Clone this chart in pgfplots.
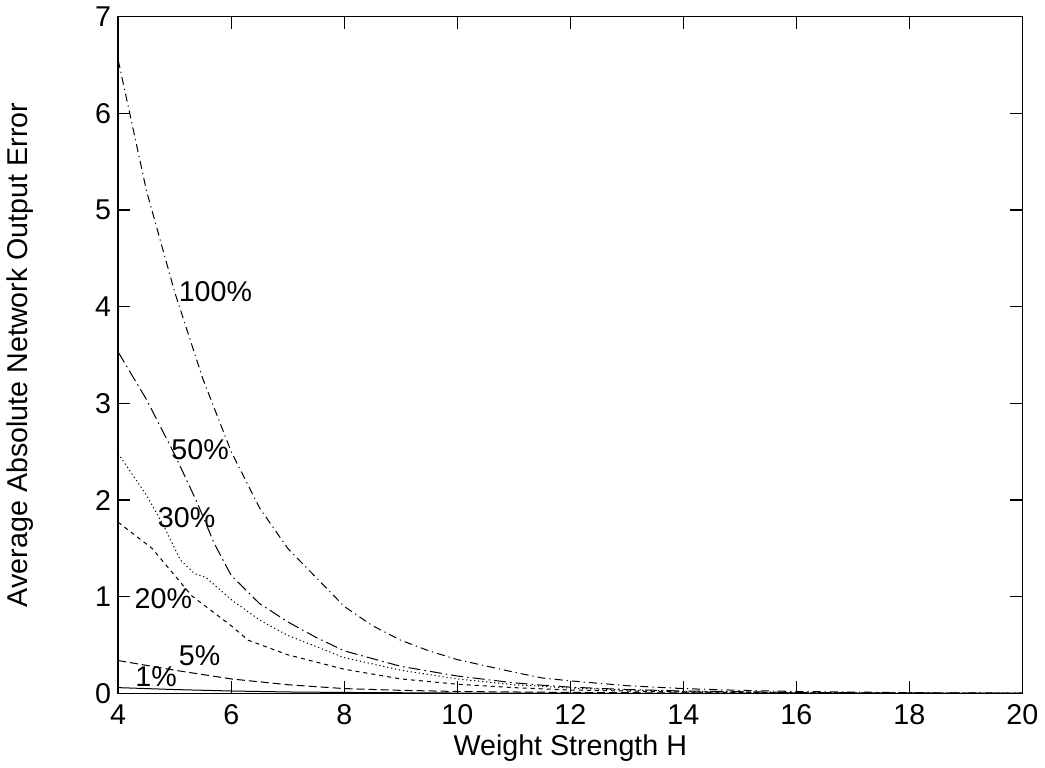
\documentclass[border=0pt]{standalone}
\usepackage{fontspec}
\setmainfont{Liberation Sans}
\usepackage{pgfplots}
\pgfplotsset{compat=1.18}

\begin{document}
\begin{tikzpicture}
\begin{axis}[
    scale only axis,
    width=451.5pt, height=338pt,
    xmin=4, xmax=20, ymin=0, ymax=7,
    xtick={4,6,...,20}, ytick={0,1,...,7},
    tick align=inside,
    major tick length=6pt,
    axis line style={line width=0.9pt},
    every tick/.style={black, line width=0.6pt},
    tick label style={font=\fontsize{14.3}{16}\selectfont},
    label style={font=\fontsize{14.3}{16}\selectfont},
    /pgf/number format/assume math mode=true,
    xticklabel style={yshift=-2pt},
    xlabel={Weight Strength H},
    ylabel={Average Absolute Network Output Error},
    xlabel style={yshift=2pt},
    ylabel style={yshift=24pt},
    every axis plot/.style={black, line width=0.5pt},
]
% 100%
\addplot[dash pattern=on 4pt off 2pt on 0.6pt off 2pt] coordinates {
 (4,6.55) (4.5,5.2) (5,4.15) (5.5,3.25) (6,2.5) (6.5,1.92) (7,1.5) (7.5,1.2)
 (8,0.9) (8.5,0.7) (9,0.55) (9.5,0.44) (10,0.35) (11,0.22) (11.5,0.16) (12,0.13)
 (13,0.08) (14,0.05) (15,0.032) (16,0.02) (18,0.008) (20,0.003)};
% 50%
\addplot[dash pattern=on 6pt off 2pt on 0.8pt off 2pt] coordinates {
 (4,3.53) (4.5,3.04) (5,2.47) (5.4,1.97) (5.7,1.55) (6,1.22) (6.5,0.93) (7,0.74)
 (7.5,0.58) (8,0.44) (9,0.28) (10,0.18) (11,0.11) (11.5,0.085) (12,0.065)
 (13,0.04) (14,0.025) (16,0.01) (18,0.004) (20,0.002)};
% 30%
\addplot[dash pattern=on 0.6pt off 1.4pt] coordinates {
 (4,2.48) (4.5,2.05) (4.8,1.74) (5.1,1.38) (5.35,1.24) (5.55,1.2) (6,0.97)
 (6.5,0.76) (7,0.6) (8,0.37) (9,0.24) (10,0.15) (11,0.09) (12,0.055) (13,0.035)
 (14,0.022) (16,0.009) (18,0.004) (20,0.002)};
% 20%
\addplot[dash pattern=on 2pt off 2pt] coordinates {
 (4,1.77) (4.6,1.5) (5.3,1.01) (6,0.7) (6.3,0.55) (7,0.4) (8,0.25) (9,0.15)
 (10,0.095) (11,0.06) (12,0.035) (14,0.015) (16,0.006) (18,0.003) (20,0.001)};
% 5%
\addplot[dash pattern=on 4pt off 2pt] coordinates {
 (4,0.34) (5,0.24) (6,0.15) (7,0.09) (8,0.05) (9,0.032) (10,0.02) (12,0.01)
 (14,0.005) (16,0.003) (18,0.002) (20,0.001)};
% 1%
\addplot[solid] coordinates {
 (4,0.06) (5,0.04) (6,0.025) (7,0.015) (8,0.01) (10,0.004) (12,0.002)
 (14,0.001) (20,0.0)};

\node[font=\fontsize{14.3}{16}\selectfont] at (axis cs:5.72,4.15) {100\%};
\node[font=\fontsize{14.3}{16}\selectfont] at (axis cs:5.45,2.52) {50\%};
\node[font=\fontsize{14.3}{16}\selectfont] at (axis cs:5.21,1.82) {30\%};
\node[font=\fontsize{14.3}{16}\selectfont] at (axis cs:4.80,0.98) {20\%};
\node[font=\fontsize{14.3}{16}\selectfont] at (axis cs:5.44,0.39) {5\%};
\node[font=\fontsize{14.3}{16}\selectfont] at (axis cs:4.67,0.17) {1\%};
\end{axis}
\end{tikzpicture}
\end{document}
